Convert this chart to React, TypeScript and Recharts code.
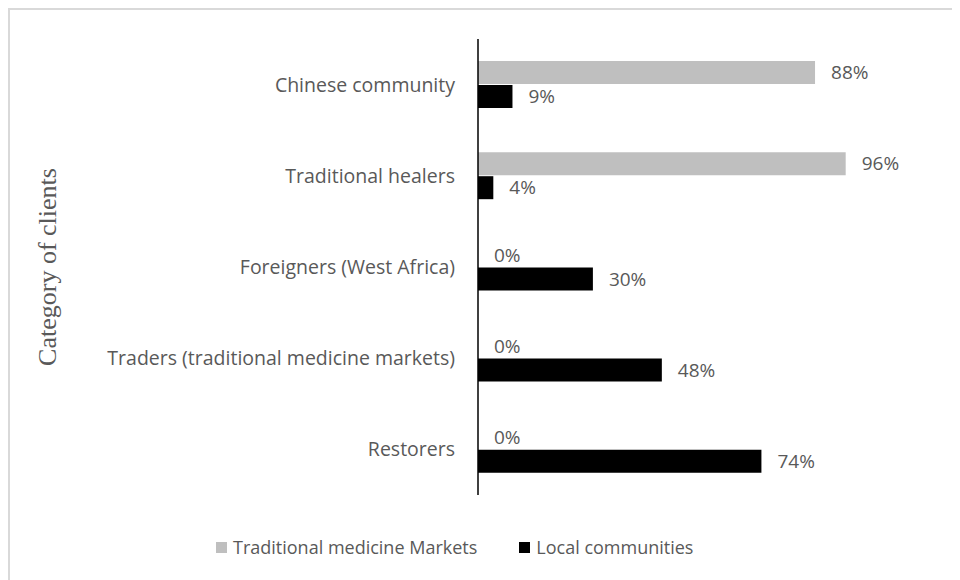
import React from 'react';
import { BarChart, Bar, XAxis, YAxis, LabelList, Label } from 'recharts';

const categories = [
  'Chinese community',
  'Traditional healers',
  'Foreigners (West Africa)',
  'Traders (traditional medicine markets)',
  'Restorers',
];
const marketValues = [88, 96, 0, 0, 0];
const localValues = [9, 4, 30, 48, 74];

const seriesNames = ['Traditional medicine Markets', 'Local communities'];
const seriesColors = ['#bfbfbf', '#000000'];

const data = categories.map((name, i) => ({
  name,
  markets: marketValues[i],
  local: localValues[i],
}));

const FONT = "'Open Sans', sans-serif";
const TEXT = '#595959';

// value label drawn to the right of the bar end (also for zero-width bars)
const renderValue = (props: any) => {
  const { x, y, width, height, value } = props;
  return (
    <text
      x={Number(x) + Number(width || 0) + 16}
      y={Number(y) + Number(height) / 2}
      dy="0.35em"
      fill={TEXT}
      fontSize={19}
      fontFamily={FONT}
    >
      {`${value}%`}
    </text>
  );
};

const App: React.FC = () => {
  return (
    <div
      style={{
        position: 'relative',
        width: 960,
        height: 580,
        border: '2px solid #d9d9d9',
        boxSizing: 'border-box',
        fontFamily: FONT,
      }}
    >
      <BarChart
        width={950}
        height={570}
        data={data}
        layout="vertical"
        margin={{ top: 29, right: 99, bottom: 85, left: 0 }}
        barSize={23}
        barGap={1}
      >
        <XAxis type="number" domain={[0, 100]} hide />
        <YAxis
          type="category"
          dataKey="name"
          width={468}
          axisLine={{ stroke: '#000', strokeWidth: 1.5 }}
          tickLine={false}
          tickSize={6}
          tickMargin={17}
          tick={{ fill: TEXT, fontSize: 19.5, fontFamily: FONT }}
        >
          <Label
            value="Category of clients"
            angle={-90}
            position="insideLeft"
            offset={37}
            style={{ textAnchor: 'middle', fill: TEXT, fontSize: 26, fontFamily: "'Liberation Serif', serif" }}
          />
        </YAxis>
        <Bar
          dataKey="markets"
          name={seriesNames[0]}
          fill={seriesColors[0]}
          minPointSize={0.01}
          isAnimationActive={false}
        >
          <LabelList dataKey="markets" content={renderValue} />
        </Bar>
        <Bar
          dataKey="local"
          name={seriesNames[1]}
          fill={seriesColors[1]}
          minPointSize={0.01}
          isAnimationActive={false}
        >
          <LabelList dataKey="local" content={renderValue} />
        </Bar>
      </BarChart>
      {/* legend */}
      <div
        style={{
          position: 'absolute',
          top: 525,
          left: 206,
          display: 'flex',
          alignItems: 'center',
          fontSize: 18,
          color: TEXT,
        }}
      >
        {seriesNames.map((n, i) => (
          <div key={n} style={{ display: 'flex', alignItems: 'center', marginRight: 42 }}>
            <span style={{ width: 11, height: 11, background: seriesColors[i], marginRight: 6, display: 'inline-block' }} />
            <span>{n}</span>
          </div>
        ))}
      </div>
    </div>
  );
};

export default App;
